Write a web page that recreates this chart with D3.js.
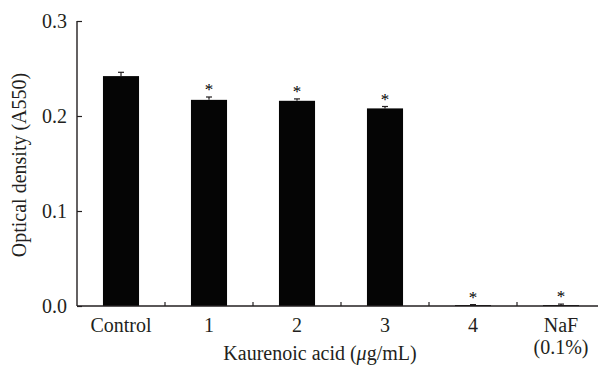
<!DOCTYPE html>
<html>
<head>
<meta charset="utf-8">
<script src="https://cdn.jsdelivr.net/npm/d3@7"></script>
<style>
    body { margin: 0; background: #fff; }
    svg { display: block; font-family: "Liberation Serif", "DejaVu Serif", serif; }
</style>
</head>
<body>
<svg id="chart" width="598" height="366"></svg>
<script>
(function() {
    'use strict';

    // Data
    const categories = ['Control', '1', '2', '3', '4', 'NaF'];
    const subLabels = ['', '', '', '', '', '(0.1%)'];
    const means = [0.242, 0.217, 0.216, 0.208, 0.001, 0.001];
    const errors = [0.004, 0.003, 0.002, 0.002, 0.0005, 0.001];
    const significant = [false, true, true, true, true, true];
    const yTicks = [0.0, 0.1, 0.2, 0.3];

    const svg = d3.select('#chart');
    const ink = '#231f20';
    const fs = 20;

    const x = d3.scaleBand()
        .domain(categories)
        .range([77, 605])
        .padding(0);

    const y = d3.scaleLinear()
        .domain([0, 0.3])
        .range([306, 21]);

    const barW = x.bandwidth() * 0.41;

    // Bars
    svg.append('g')
        .selectAll('rect')
        .data(categories)
        .join('rect')
        .attr('x', d => x(d) + (x.bandwidth() - barW) / 2)
        .attr('y', (d, i) => y(means[i]))
        .attr('width', barW)
        .attr('height', (d, i) => Math.max(y(0) - y(means[i]), 1))
        .attr('fill', '#050505');

    // Error bars (upper only)
    const err = svg.append('g').attr('stroke', ink).attr('stroke-width', 1.2);
    categories.forEach((c, i) => {
        const cx = x(c) + x.bandwidth() / 2;
        err.append('line')
            .attr('x1', cx).attr('x2', cx)
            .attr('y1', y(means[i])).attr('y2', y(means[i] + errors[i]));
        err.append('line')
            .attr('x1', cx - 3).attr('x2', cx + 3)
            .attr('y1', y(means[i] + errors[i])).attr('y2', y(means[i] + errors[i]));
    });

    // Asterisks
    svg.append('g')
        .selectAll('text')
        .data(categories.filter((c, i) => significant[i]))
        .join('text')
        .attr('x', d => x(d) + x.bandwidth() / 2)
        .attr('y', d => {
            const i = categories.indexOf(d);
            return y(means[i] + errors[i]) - 2;
        })
        .attr('text-anchor', 'middle')
        .attr('font-size', 17)
        .attr('fill', '#000')
        .text('*');

    // Y axis
    const yAxis = d3.axisRight(y)
        .tickValues(yTicks)
        .tickFormat(d3.format('.1f'))
        .tickSize(5);
    const yg = svg.append('g')
        .attr('transform', 'translate(77,0)')
        .call(yAxis)
        .attr('font-size', fs)
        .attr('font-family', null);
    yg.select('.domain').attr('stroke', ink).attr('stroke-width', 1.4)
        .attr('d', `M0,${y(0.3)}V${y(0)}`);
    yg.selectAll('.tick line').attr('stroke', ink).attr('stroke-width', 1.2);
    yg.selectAll('.tick text')
        .attr('x', -10)
        .attr('dy', '0.32em')
        .attr('text-anchor', 'end')
        .attr('fill', ink);

    // X axis line and separator ticks
    const xg = svg.append('g');
    xg.append('line')
        .attr('x1', 77).attr('x2', 598)
        .attr('y1', y(0)).attr('y2', y(0))
        .attr('stroke', ink).attr('stroke-width', 1.4);
    xg.selectAll('line.sep')
        .data(categories.slice(1))
        .join('line')
        .attr('class', 'sep')
        .attr('x1', d => x(d)).attr('x2', d => x(d))
        .attr('y1', y(0)).attr('y2', y(0) - 4)
        .attr('stroke', ink).attr('stroke-width', 1.2);

    // X tick labels
    xg.selectAll('text.cat')
        .data(categories)
        .join('text')
        .attr('class', 'cat')
        .attr('x', d => x(d) + x.bandwidth() / 2)
        .attr('y', 332)
        .attr('text-anchor', 'middle')
        .attr('font-size', fs)
        .attr('fill', ink)
        .text(d => d);
    xg.selectAll('text.sub')
        .data(categories.filter((c, i) => subLabels[i]))
        .join('text')
        .attr('class', 'sub')
        .attr('x', d => x(d) + x.bandwidth() / 2)
        .attr('y', 354)
        .attr('text-anchor', 'middle')
        .attr('font-size', fs)
        .attr('fill', ink)
        .text(d => subLabels[categories.indexOf(d)]);

    // Axis titles
    const xt = svg.append('text')
        .attr('x', 320)
        .attr('y', 360)
        .attr('text-anchor', 'middle')
        .attr('font-size', fs)
        .attr('fill', ink);
    xt.append('tspan').text('Kaurenoic acid (');
    xt.append('tspan').attr('font-style', 'italic').text('μ');
    xt.append('tspan').text('g/mL)');

    svg.append('text')
        .attr('transform', 'translate(26,165) rotate(-90)')
        .attr('text-anchor', 'middle')
        .attr('font-size', fs)
        .attr('fill', ink)
        .text('Optical density (A550)');
})();
</script>
</body>
</html>
